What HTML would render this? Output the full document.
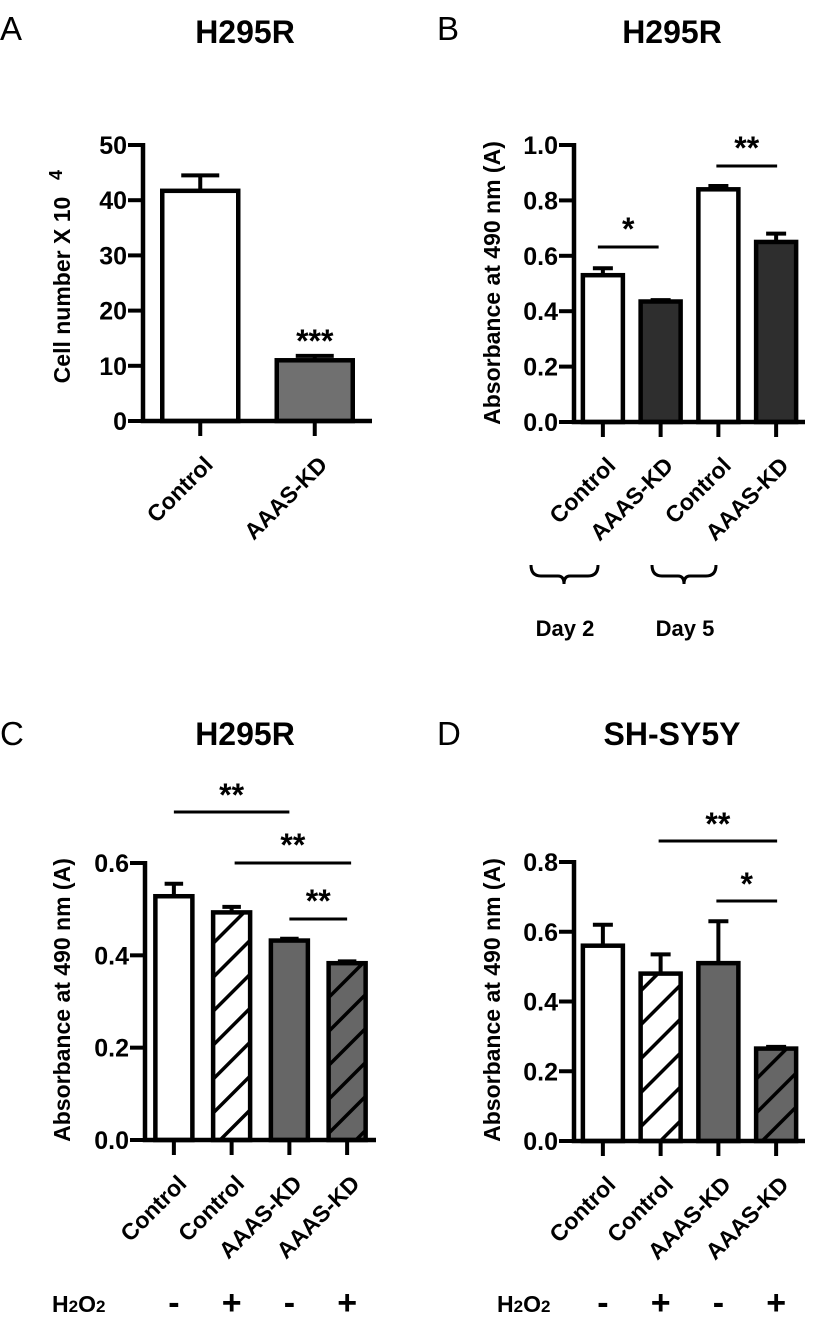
<!DOCTYPE html>
<html><head><meta charset="utf-8">
<style>
body{margin:0;background:#fff;}
svg{display:block;font-family:"Liberation Sans",Arial,sans-serif;}
text{font-weight:bold;fill:#000;}
</style></head>
<body>
<svg id="fig" width="813" height="1330" viewBox="0 0 813 1330">
<defs>
<pattern id="hatch" patternUnits="userSpaceOnUse" width="24" height="24" patternTransform="rotate(45)">
<rect width="24" height="24" fill="#fff"/><line x1="0" y1="0" x2="0" y2="24" stroke="#000" stroke-width="7"/></pattern>
<pattern id="hatchGray" patternUnits="userSpaceOnUse" width="24" height="24" patternTransform="rotate(45)">
<rect width="24" height="24" fill="#666"/><line x1="0" y1="0" x2="0" y2="24" stroke="#000" stroke-width="7"/></pattern>
</defs>
<text x="0" y="40" style="font-weight:normal;font-size:33px">A</text>
<text x="437" y="40" style="font-weight:normal;font-size:33px">B</text>
<text x="0" y="745" style="font-weight:normal;font-size:33px">C</text>
<text x="437" y="745" style="font-weight:normal;font-size:33px">D</text>
<text x="245" y="43" text-anchor="middle" font-size="32">H295R</text>
<text x="672" y="43" text-anchor="middle" font-size="32">H295R</text>
<text x="245" y="745" text-anchor="middle" font-size="32">H295R</text>
<text x="672" y="745" text-anchor="middle" font-size="32">SH-SY5Y</text>
<text transform="translate(70,290) rotate(-90)" text-anchor="middle" font-size="23">Cell number X 10</text>
<text transform="translate(62,180) rotate(-90)" font-size="18">4</text>
<text transform="translate(500,283) rotate(-90)" text-anchor="middle" font-size="23">Absorbance at 490 nm (A)</text>
<text transform="translate(70,1000) rotate(-90)" text-anchor="middle" font-size="23">Absorbance at 490 nm (A)</text>
<text transform="translate(500,1000) rotate(-90)" text-anchor="middle" font-size="23">Absorbance at 490 nm (A)</text>
<g fill="none" stroke="#000" stroke-width="3">
<path d="M531,565 Q531,576 541,576 L558,576 Q564,576 564,584 Q564,576 570,576 L588,576 Q598,576 598,565"/>
<path d="M652,565 Q652,576 662,576 L678,576 Q684,576 684,584 Q684,576 690,576 L706,576 Q716,576 716,565"/>
</g>
<text x="565" y="636" text-anchor="middle" font-size="22">Day 2</text>
<text x="685" y="636" text-anchor="middle" font-size="22">Day 5</text>
<text x="52" y="1312" font-size="23">H<tspan font-size="17">2</tspan>O<tspan font-size="17">2</tspan></text>
<text x="497" y="1312" font-size="23">H<tspan font-size="17">2</tspan>O<tspan font-size="17">2</tspan></text>
<g id="plots"></g>
</svg>
<script>
// Panel A
const aCategories = ["Control", "AAAS-KD"];
const aValues = [41.7, 11.0];
const aErrors = [2.8, 0.8];
const aTicks = ["0", "10", "20", "30", "40", "50"];
// Panel B
const bCategories = ["Control", "AAAS-KD", "Control", "AAAS-KD"];
const bValues = [0.53, 0.435, 0.84, 0.65];
const bErrors = [0.025, 0.005, 0.012, 0.03];
const bTicks = ["0.0", "0.2", "0.4", "0.6", "0.8", "1.0"];
// Panel C
const cCategories = ["Control", "Control", "AAAS-KD", "AAAS-KD"];
const cValues = [0.528, 0.493, 0.432, 0.383];
const cErrors = [0.027, 0.012, 0.004, 0.004];
const cTicks = ["0.0", "0.2", "0.4", "0.6"];
const cH2O2 = ["-", "+", "-", "+"];
// Panel D
const dCategories = ["Control", "Control", "AAAS-KD", "AAAS-KD"];
const dValues = [0.56, 0.48, 0.51, 0.265];
const dErrors = [0.06, 0.055, 0.12, 0.005];
const dTicks = ["0.0", "0.2", "0.4", "0.6", "0.8"];
const dH2O2 = ["-", "+", "-", "+"];

const NS = "http://www.w3.org/2000/svg";
const root = document.getElementById("plots");
function mk(tag, attrs, parent) {
  const e = document.createElementNS(NS, tag);
  for (const k in attrs) e.setAttribute(k, attrs[k]);
  (parent || root).appendChild(e);
  return e;
}

function panel(cfg, cats, vals, errs, ticks) {
  const g = mk("g", {});
  
  
  const yMax = parseFloat(ticks[ticks.length - 1]);
  const y = v => cfg.y0 - (v / yMax) * (cfg.y0 - cfg.yTop);
  const n = cats.length;
  const step = (cfg.xEnd - cfg.x0) / n;
  const xc = i => cfg.x0 + step * (i + 0.5);
  vals.forEach((v, i) => {
    const cx = xc(i), w = cfg.barW;
    const err = mk("path", {d: `M${cx},${y(v)} V${y(v + errs[i])} M${cx - w / 4},${y(v + errs[i])} H${cx + w / 4}`, stroke: "#000", "stroke-width": 4, fill: "none"}, g);
    
    
    const r = mk("rect", {x: cx - w / 2, y: y(v), width: w, height: cfg.y0 - y(v), fill: cfg.fills[i], stroke: "#000", "stroke-width": 4.5}, g);
    
    
    const t = mk("line", {x1: cx, x2: cx, y1: cfg.y0, y2: cfg.y0 + 15, stroke: "#000", "stroke-width": 4}, g);
    
    
    const lbl = mk("text", {transform: `translate(${cx + 14},${cfg.y0 + 45}) rotate(-45)`, "text-anchor": "end", "font-size": 23}, g);
    lbl.textContent = cats[i];
    
    
  });
  const ax = mk("path", {d: `M${cfg.x0},${cfg.yTop - 2} V${cfg.y0} H${cfg.xEnd}`, stroke: "#000", "stroke-width": 4.5, fill: "none"}, g);
  
  
  ticks.forEach(tk => {
    const v = parseFloat(tk);
    const l = mk("line", {x1: cfg.x0 - 15, x2: cfg.x0, y1: y(v), y2: y(v), stroke: "#000", "stroke-width": 4}, g);
    
    
    const t = mk("text", {x: cfg.x0 - 16, y: y(v) + 9, "text-anchor": "end", "font-size": 25}, g);
    t.textContent = tk;
    
    
  });
  (cfg.sig || []).forEach(s => {
    if (s.a !== undefined) {
      const l = mk("line", {x1: xc(s.a) + (s.da || 0), x2: xc(s.b) + (s.db || 0), y1: s.y, y2: s.y, stroke: "#000", "stroke-width": 3}, g);
      
      
    }
    const cx = s.a !== undefined ? (xc(s.a) + (s.da || 0) + xc(s.b) + (s.db || 0)) / 2 : xc(s.at);
    const t = mk("text", {x: cx, y: s.ty, "text-anchor": "middle", "font-size": 32}, g);
    t.textContent = s.txt;
    
    
  });
  if (cfg.h2o2) {
    cfg.h2o2.forEach((s, i) => {
      const t = mk("text", {x: xc(i), y: 1314, "text-anchor": "middle", "font-size": 34}, g);
      t.textContent = s;
      
      
    });
  }
}

panel({name: "panel-a-chart", x0: 143, xEnd: 372, y0: 421, yTop: 145, barW: 76,
  fills: ["#fff", "#707070"], sig: [{at: 1, txt: "***", ty: 352}]}, aCategories, aValues, aErrors, aTicks);
panel({name: "panel-b-chart", x0: 574, xEnd: 805, y0: 422, yTop: 145, barW: 40,
  fills: ["#fff", "#2e2e2e", "#fff", "#2e2e2e"],
  sig: [{a: 0, b: 1, da: -5, db: -2, y: 247, txt: "*", ty: 240}, {a: 2, b: 3, da: -2, db: 1, y: 166, txt: "**", ty: 159}]},
  bCategories, bValues, bErrors, bTicks);
panel({name: "panel-c-chart", x0: 145, xEnd: 376, y0: 1140, yTop: 863, barW: 37,
  fills: ["#fff", "url(#hatch)", "#666", "url(#hatchGray)"], h2o2: cH2O2,
  sig: [{a: 0, b: 2, y: 812, txt: "**", ty: 806}, {a: 1, b: 3, da: 3, db: 4, y: 863, txt: "**", ty: 856}, {a: 2, b: 3, y: 919, txt: "**", ty: 912}]},
  cCategories, cValues, cErrors, cTicks);
panel({name: "panel-d-chart", x0: 574, xEnd: 805, y0: 1141, yTop: 862, barW: 40,
  fills: ["#fff", "url(#hatch)", "#666", "url(#hatchGray)"], h2o2: dH2O2,
  sig: [{a: 1, b: 3, da: -2, db: 1, y: 841, txt: "**", ty: 835}, {a: 2, b: 3, da: -2, db: 1, y: 901, txt: "*", ty: 895}]},
  dCategories, dValues, dErrors, dTicks);
</script>
</body></html>
